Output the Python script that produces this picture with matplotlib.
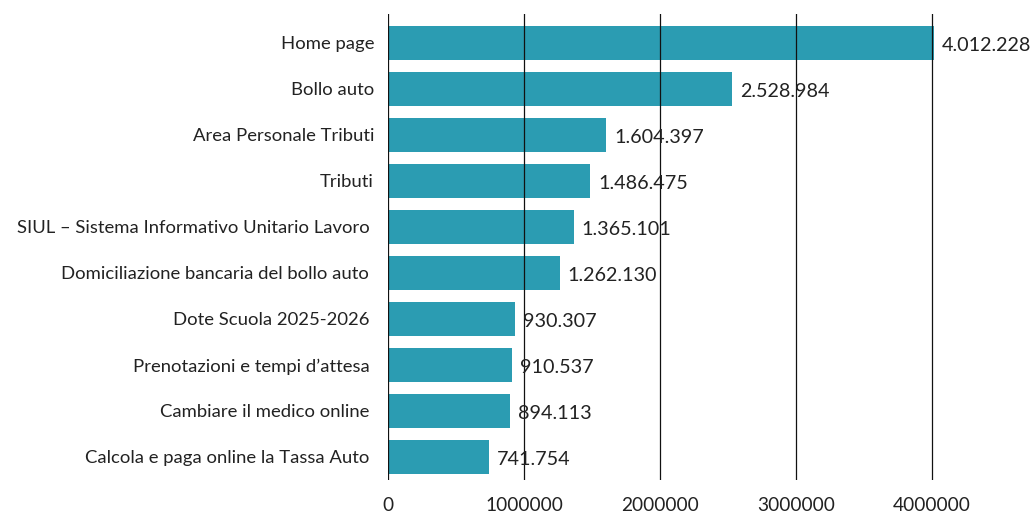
import matplotlib.pyplot as plt

# Dati
categorie = [
    "Home page",
    "Bollo auto",
    "Area Personale Tributi",
    "Tributi",
    "SIUL – Sistema Informativo Unitario Lavoro ",
    "Domiciliazione bancaria del bollo auto ",
    "Dote Scuola 2025-2026 ",
    "Prenotazioni e tempi d’attesa ",
    "Cambiare il medico online ",
    "Calcola e paga online la Tassa Auto ",
]
visite = [4012228, 2528984, 1604397, 1486475, 1365101,
          1262130, 930307, 910537, 894113, 741754]
tick_x = [0, 1000000, 2000000, 3000000, 4000000]

plt.rcParams['font.family'] = ['Lato', 'DejaVu Sans']
testo = '#222222'

fig = plt.figure(figsize=(10.35, 5.14), dpi=100)
ax = fig.add_axes([388 / 1035, 1 - 480 / 514, (938.8 - 388) / 1035, (480 - 14) / 514])

n = len(categorie)
pos = [n - 1 - i for i in range(n)]
ax.barh(pos, visite, height=0.74, color='#2b9cb2', zorder=2)

# griglia sopra le barre
for t in tick_x:
    ax.axvline(t, color='#111111', linewidth=0.9, zorder=3)

# etichette dei valori
for p, v in zip(pos, visite):
    lab = f"{v:,}".replace(",", ".")
    ax.annotate(lab, (v, p), xytext=(8, -3), textcoords='offset pixels',
                va='center', ha='left', fontsize=14.2, color=testo,
                annotation_clip=False, zorder=4)

ax.set_xlim(0, 4050000)
ax.set_ylim(-0.5, n - 1 + 0.63)
ax.set_yticks(pos)
ax.set_yticklabels(categorie, fontsize=13.3, color=testo)
ax.set_xticks(tick_x)
ax.set_xticklabels([str(t) for t in tick_x], fontsize=13.8, color=testo)
ax.tick_params(axis='y', length=0, pad=10)
ax.tick_params(axis='x', length=0, pad=12)
for s in ax.spines.values():
    s.set_visible(False)

fig.savefig("out.png", dpi=100)
